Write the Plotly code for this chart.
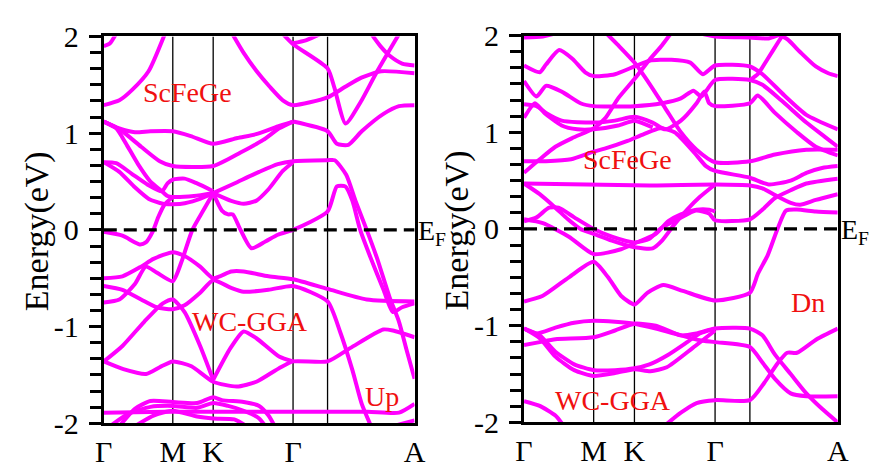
import plotly.graph_objects as go

# ---------------- data ----------------
K_LINES = [0.222, 0.352, 0.609, 0.72]           # vertical high-symmetry lines
K_TICKS = [0.0, 0.222, 0.352, 0.609, 1.0]
K_LABELS = ["Γ", "M", "K", "Γ", "A"]
E_TICKS = [-2, -1, 0, 1, 2]
E_LABELS = ["-2", "-1", "0", "1", "2"]

# spin-up bands (k, E)
up01 = [(0, 1.9), (0.02, 1.93), (0.04, 2.03)]
up02 = [(0, 1.29), (0.05, 1.34), (0.092, 1.45), (0.144, 1.64), (0.197, 2.03)]
up03 = [(0.413, 2.03), (0.45, 1.83), (0.492, 1.64), (0.534, 1.48), (0.576, 1.34), (0.609, 1.29),
        (0.72, 1.37), (0.777, 1.48), (0.829, 1.575), (0.893, 1.64), (1.0, 1.62)]
up04 = [(0.575, 2.03), (0.609, 1.92), (0.72, 1.67), (0.742, 1.47), (0.778, 1.10), (0.826, 1.32),
        (0.878, 1.63), (0.951, 2.03)]
up05 = [(0.609, 1.93), (0.65, 1.96), (0.7, 2.03)]
up06 = [(0.86, 2.03), (0.89, 1.9), (0.92, 1.8), (0.96, 1.72), (1.0, 1.70)]
up07 = [(0.609, 1.12), (0.72, 1.02), (0.75, 0.89), (0.787, 0.88), (0.83, 1.02), (0.9, 1.2),
        (0.95, 1.28), (1.0, 1.29)]
up08 = [(0, 1.12), (0.05, 1.05), (0.1, 1.01), (0.15, 1.02), (0.222, 1.02), (0.28, 0.97), (0.352, 0.89),
        (0.43, 0.95), (0.49, 0.99), (0.56, 1.07), (0.609, 1.12)]
up09 = [(0, 1.12), (0.055, 1.03), (0.12, 0.86), (0.18, 0.71), (0.222, 0.66), (0.352, 0.66), (0.44, 0.80),
        (0.513, 0.93), (0.564, 1.05), (0.609, 1.12)]
up10 = [(0, 1.12), (0.04, 1.05), (0.07, 0.9), (0.11, 0.68), (0.15, 0.5), (0.187, 0.40), (0.205, 0.35),
        (0.222, 0.34), (0.29, 0.35), (0.352, 0.38)]
up11 = [(0, 0.70), (0.04, 0.69), (0.09, 0.58), (0.14, 0.47), (0.187, 0.40), (0.205, 0.48), (0.222, 0.52),
        (0.26, 0.53), (0.3, 0.48), (0.352, 0.40)]
up12 = [(0, 0.70), (0.05, 0.6), (0.1, 0.44), (0.145, 0.32), (0.19, 0.27), (0.25, 0.27), (0.3, 0.31),
        (0.352, 0.38)]
up13 = [(0.352, 0.38), (0.42, 0.48), (0.5, 0.6), (0.56, 0.68), (0.609, 0.71), (0.72, 0.72), (0.743, 0.72),
        (0.78, 0.57), (0.81, 0.3), (0.846, 0.0), (0.88, -0.3), (0.92, -0.7), (0.95, -0.95),
        (0.975, -1.25), (1.0, -1.54)]
up14 = [(0.352, 0.38), (0.41, 0.3), (0.45, 0.27), (0.49, 0.3), (0.53, 0.42), (0.576, 0.61), (0.609, 0.70)]
up15 = [(0.352, 0.38), (0.38, 0.2), (0.4, 0.16), (0.415, 0.16), (0.44, 0.0), (0.475, -0.19), (0.52, -0.12),
        (0.56, -0.05), (0.609, 0.0), (0.72, 0.19), (0.75, 0.45), (0.777, 0.45), (0.8, 0.3), (0.825, 0.0),
        (0.86, -0.3), (0.9, -0.62), (0.93, -0.85), (0.96, -0.8), (1.0, -0.76)]
up16 = [(0, -0.02), (0.06, -0.06), (0.115, -0.15), (0.135, -0.13), (0.157, -0.02), (0.175, 0.13),
        (0.195, 0.26), (0.222, 0.34)]
up17 = [(0, -0.50), (0.06, -0.48), (0.12, -0.38), (0.16, -0.30), (0.222, -0.23), (0.26, -0.27), (0.31, -0.38),
        (0.352, -0.50), (0.41, -0.43), (0.45, -0.43), (0.53, -0.48), (0.609, -0.51), (0.72, -0.61),
        (0.846, -0.72), (1.0, -0.74)]
up18 = [(0, -0.58), (0.06, -0.62), (0.12, -0.72), (0.17, -0.80), (0.222, -0.82), (0.26, -0.78), (0.31, -0.65),
        (0.352, -0.52), (0.41, -0.6), (0.45, -0.64), (0.53, -0.62), (0.609, -0.58), (0.72, -0.74),
        (0.76, -1.05), (0.8, -1.45), (0.83, -1.8), (0.86, -2.03)]
up19 = [(0, -0.75), (0.05, -0.72), (0.1, -0.56), (0.135, -0.38), (0.17, -0.44), (0.222, -0.53), (0.25, -0.33),
        (0.285, 0.0), (0.32, 0.2), (0.352, 0.38)]
up20 = [(0, -1.36), (0.06, -1.2), (0.13, -0.95), (0.19, -0.76), (0.222, -0.72), (0.26, -0.85), (0.31, -1.2),
        (0.352, -1.55)]
up21 = [(0, -1.36), (0.063, -1.44), (0.136, -1.49), (0.18, -1.42), (0.222, -1.36), (0.282, -1.41),
        (0.352, -1.57), (0.428, -1.62), (0.491, -1.57), (0.564, -1.43), (0.609, -1.36), (0.72, -1.36),
        (0.794, -1.22), (0.899, -1.03), (0.93, -1.04), (1.0, -1.11)]
up22 = [(0.352, -1.55), (0.408, -1.22), (0.45, -1.05), (0.491, -1.12), (0.564, -1.31), (0.609, -1.36)]
up23 = [(0, -1.89), (0.2, -1.88), (0.4, -1.88), (0.609, -1.88), (0.72, -1.88), (0.85, -1.88), (0.95, -1.89),
        (1.0, -1.8)]
up24 = [(0.05, -2.03), (0.1, -1.85), (0.15, -1.77), (0.222, -1.78), (0.3, -1.79), (0.352, -1.73), (0.38, -1.76),
        (0.45, -1.78), (0.5, -1.82), (0.53, -1.92), (0.55, -2.03)]
up25 = [(0.02, -2.03), (0.08, -1.9), (0.15, -1.83), (0.222, -1.82), (0.3, -1.84), (0.352, -1.79), (0.4, -1.82),
        (0.45, -1.87), (0.5, -1.95), (0.52, -2.03)]
up26 = [(0.1, -2.03), (0.16, -1.92), (0.222, -1.87), (0.3, -1.93), (0.352, -1.95), (0.42, -1.96), (0.46, -2.03)]
up27 = [(0.93, -2.03), (1.0, -1.97)]

# spin-down bands (k, E)
dn01 = [(0, 1.98), (0.06, 1.99), (0.11, 2.03)]
dn02 = [(0, 1.69), (0.05, 1.62), (0.07, 1.7), (0.112, 1.85), (0.154, 1.76), (0.195, 1.62), (0.222, 1.58),
        (0.29, 1.6), (0.352, 1.68), (0.4, 1.74), (0.47, 1.75), (0.53, 1.72), (0.57, 1.6), (0.609, 1.69),
        (0.72, 1.68), (0.76, 1.6), (0.83, 1.38), (0.9, 1.18), (1.0, 1.03)]
dn03 = [(0, 1.53), (0.04, 1.37), (0.07, 1.48), (0.12, 1.42), (0.18, 1.3), (0.222, 1.27), (0.352, 1.27),
        (0.44, 1.3), (0.5, 1.35), (0.54, 1.43), (0.565, 1.37), (0.609, 1.54), (0.72, 1.54), (0.76, 1.49),
        (0.82, 1.33), (0.9, 1.1), (0.96, 0.95), (1.0, 0.85)]
dn04 = [(0, 1.29), (0.04, 1.27), (0.07, 1.2), (0.12, 1.12), (0.222, 1.1), (0.29, 1.12), (0.352, 1.16),
        (0.41, 1.1), (0.45, 1.03), (0.5, 1.12), (0.55, 1.3), (0.575, 1.42), (0.59, 1.3), (0.609, 1.27),
        (0.72, 1.3), (0.745, 1.38), (0.8, 1.2), (0.87, 1.0), (0.93, 0.85), (1.0, 0.76)]
dn05 = [(0, 1.15), (0.035, 1.3), (0.065, 1.2), (0.12, 1.07), (0.17, 1.03), (0.222, 1.03), (0.3, 1.07),
        (0.352, 1.12), (0.41, 1.05)]
dn06 = [(0, 0.58), (0.05, 0.72), (0.1, 0.85), (0.154, 0.94), (0.222, 1.04), (0.26, 1.15), (0.3, 1.35),
        (0.352, 1.55), (0.4, 1.75), (0.44, 1.9), (0.47, 2.03)]
dn07 = [(0.26, 2.03), (0.3, 1.9), (0.352, 1.72), (0.4, 1.5), (0.45, 1.25), (0.5, 1.0), (0.55, 0.82),
        (0.609, 0.69), (0.72, 0.70), (0.8, 0.77), (0.9, 0.82), (1.0, 0.82)]
dn08 = [(0, 0.70), (0.07, 0.7), (0.15, 0.72), (0.222, 0.80), (0.257, 0.83), (0.33, 0.91), (0.382, 0.98),
        (0.434, 1.04), (0.48, 1.0), (0.54, 0.8), (0.58, 0.65), (0.609, 0.6), (0.72, 0.53), (0.78, 0.46),
        (0.85, 0.5), (0.9, 0.58), (0.95, 0.63), (1.0, 0.65)]
dn09 = [(0, 0.47), (0.2, 0.46), (0.4, 0.45), (0.609, 0.46), (0.72, 0.45), (0.76, 0.42), (0.8, 0.35),
        (0.85, 0.27), (0.88, 0.25), (0.93, 0.3), (1.0, 0.36)]
dn10 = [(0, 0.47), (0.05, 0.36), (0.1, 0.22), (0.14, 0.1), (0.18, 0.0), (0.222, -0.05), (0.28, -0.12),
        (0.352, -0.19), (0.41, -0.2), (0.44, -0.12), (0.48, 0.05), (0.52, 0.2), (0.56, 0.33), (0.609, 0.46)]
dn11 = [(0, 0.08), (0.04, 0.12), (0.08, 0.22), (0.11, 0.22), (0.16, 0.12), (0.222, 0.0), (0.28, -0.08),
        (0.352, -0.14), (0.4, -0.1), (0.434, 0.0), (0.496, 0.11), (0.548, 0.19), (0.59, 0.16), (0.609, 0.09),
        (0.72, 0.1), (0.76, 0.2), (0.8, 0.32), (0.85, 0.4), (0.9, 0.47), (1.0, 0.52)]
dn12 = [(0, 0.1), (0.06, 0.06), (0.143, -0.08), (0.222, -0.26), (0.309, -0.21), (0.352, -0.15), (0.42, -0.05),
        (0.46, 0.08), (0.5, 0.15), (0.55, 0.2), (0.59, 0.2), (0.609, 0.18)]
dn13 = [(0, -0.75), (0.06, -0.69), (0.143, -0.5), (0.222, -0.34), (0.268, -0.5), (0.309, -0.69), (0.352, -0.78),
        (0.393, -0.66), (0.444, -0.58), (0.506, -0.64), (0.609, -0.74), (0.72, -0.66), (0.746, -0.46),
        (0.777, -0.27), (0.808, 0.0), (0.835, 0.19), (0.87, 0.2), (0.93, 0.18), (1.0, 0.17)]
dn14 = [(0, -1.03), (0.04, -1.08), (0.1, -1.02), (0.16, -0.97), (0.222, -0.95), (0.29, -0.96), (0.352, -0.98),
        (0.42, -1.03), (0.5, -1.1), (0.56, -1.15), (0.609, -1.17), (0.72, -1.22), (0.76, -1.38), (0.8, -1.55),
        (0.85, -1.7), (0.9, -1.73), (1.0, -1.73)]
dn15 = [(0, -1.2), (0.05, -1.17), (0.1, -1.14), (0.222, -1.12), (0.29, -1.05), (0.352, -0.98), (0.42, -1.0),
        (0.5, -1.1), (0.55, -1.08), (0.609, -1.03), (0.72, -1.03), (0.76, -1.1), (0.8, -1.3), (0.85, -1.5),
        (0.9, -1.7), (0.95, -1.86), (1.0, -2.0)]
dn16 = [(0, -1.03), (0.05, -1.1), (0.1, -1.27), (0.16, -1.4), (0.222, -1.46), (0.29, -1.46), (0.352, -1.44),
        (0.4, -1.4), (0.46, -1.3), (0.52, -1.17), (0.56, -1.08), (0.609, -1.03)]
dn17 = [(0, -1.03), (0.05, -1.13), (0.1, -1.32), (0.16, -1.46), (0.222, -1.52), (0.29, -1.49), (0.352, -1.45),
        (0.403, -1.47), (0.455, -1.43), (0.538, -1.23), (0.609, -1.05)]
dn18 = [(0.45, -2.03), (0.5, -1.9), (0.55, -1.8), (0.609, -1.77), (0.72, -1.77), (0.766, -1.59),
        (0.808, -1.39), (0.839, -1.28), (0.87, -1.28), (0.933, -1.14), (1.0, -1.03)]
dn19 = [(0, -1.78), (0.05, -1.83), (0.1, -1.93), (0.125, -2.03)]
dn20 = [(0.72, 1.54), (0.745, 1.6), (0.775, 1.75), (0.81, 1.93), (0.83, 2.03)]
dn21 = [(0.8, 2.03), (0.84, 1.96), (0.88, 1.83), (0.93, 1.68), (0.97, 1.61), (1.0, 1.58)]
dn22 = [(0.55, 2.03), (0.609, 1.99), (0.72, 1.98), (0.78, 1.97), (0.83, 2.03)]

UP_BANDS = [up01, up02, up03, up04, up05, up06, up07, up08, up09, up10, up11, up12, up13, up14,
            up15, up16, up17, up18, up19, up20, up21, up22, up23, up24, up25, up26, up27]
DN_BANDS = [dn01, dn02, dn03, dn04, dn05, dn06, dn07, dn08, dn09, dn10, dn11, dn12, dn13, dn14, dn15,
            dn16, dn17, dn18, dn19, dn20, dn21, dn22]

# ---------------- figure ----------------
W, H = 880, 471
MAGENTA = "#FF00FF"
SERIF = "Liberation Serif"

fig = go.Figure()


def add_bands(bands, xa, ya):
    for b in bands:
        fig.add_trace(go.Scatter(
            x=[p[0] for p in b], y=[p[1] for p in b], mode="lines",
            line=dict(color=MAGENTA, width=4, shape="spline", smoothing=0.6),
            xaxis=xa, yaxis=ya, showlegend=False, hoverinfo="skip"))


add_bands(UP_BANDS, "x", "y")
add_bands(DN_BANDS, "x2", "y2")

panels = [
    dict(xd=[97 / W, 415 / W], yd=[1 - 438 / H, 1 - 22 / H]),
    dict(xd=[527 / W, 848 / W], yd=[1 - 437 / H, 1 - 21 / H]),
]

for i, p in enumerate(panels):
    sx = "" if i == 0 else "2"
    fig.layout["xaxis" + sx] = dict(
        domain=p["xd"], range=[0, 1], anchor="y" + sx,
        tickvals=K_TICKS, ticktext=K_LABELS, ticks="",
        showgrid=False, zeroline=False, showline=True, mirror=True,
        linewidth=3, linecolor="black",
        tickfont=dict(family=SERIF, size=30, color="black"))
    fig.layout["yaxis" + sx] = dict(
        domain=p["yd"], range=[-2, 2], anchor="x" + sx,
        tickvals=E_TICKS, ticktext=E_LABELS, ticks="outside", ticklen=12, tickwidth=3,
        tickcolor="black", ticklabelstandoff=4,
        minor=dict(dtick=1 / 6, tick0=0, ticks="outside", ticklen=11, tickwidth=3, tickcolor="black"),
        showgrid=False, zeroline=False, showline=True, mirror=True,
        linewidth=3, linecolor="black",
        tickfont=dict(family=SERIF, size=30, color="black"))

shapes = []
for sx in ["", "2"]:
    for k in K_LINES:
        shapes.append(dict(type="line", xref="x" + sx, yref="y" + sx, x0=k, x1=k, y0=-2, y1=2,
                           line=dict(color="black", width=1.3), layer="below"))
    shapes.append(dict(type="line", xref="x" + sx, yref="y" + sx, x0=0, x1=1, y0=0, y1=0,
                       line=dict(color="black", width=3.2, dash="13px,7px"), layer="above"))
fig.update_layout(shapes=shapes)

RED = "#F01010"
ann = []
# panel labels
for (xr, yr, x, y, t) in [
    ("x", "y", 0.27, 1.42, "ScFeGe"),
    ("x", "y", 0.47, -0.95, "WC-GGA"),
    ("x", "y", 0.895, -1.72, "Up"),
    ("x2", "y2", 0.33, 0.72, "ScFeGe"),
    ("x2", "y2", 0.905, -0.76, "Dn"),
    ("x2", "y2", 0.285, -1.77, "WC-GGA"),
]:
    ann.append(dict(xref=xr, yref=yr, x=x, y=y, text=t, showarrow=False,
                    font=dict(family=SERIF, size=28, color=RED)))
# Fermi level labels
for xr, yr in [("x", "y"), ("x2", "y2")]:
    ann.append(dict(xref=xr, yref=yr, x=1, y=0, xanchor="left", yanchor="middle", xshift=1, yshift=-3,
                    text="E<sub>F</sub>", showarrow=False,
                    font=dict(family=SERIF, size=28, color="black")))
# y-axis titles
for xc in [28 / W, 458 / W]:
    ann.append(dict(xref="paper", yref="paper", x=xc, y=1 - 231 / H, text="Energy(eV)",
                    textangle=-90, showarrow=False, xanchor="center", yanchor="middle",
                    font=dict(family=SERIF, size=34, color="black")))

fig.update_layout(
    width=W, height=H, margin=dict(l=0, r=0, t=0, b=0),
    paper_bgcolor="white", plot_bgcolor="white",
    annotations=ann, showlegend=False)

fig.write_html("out.html")
